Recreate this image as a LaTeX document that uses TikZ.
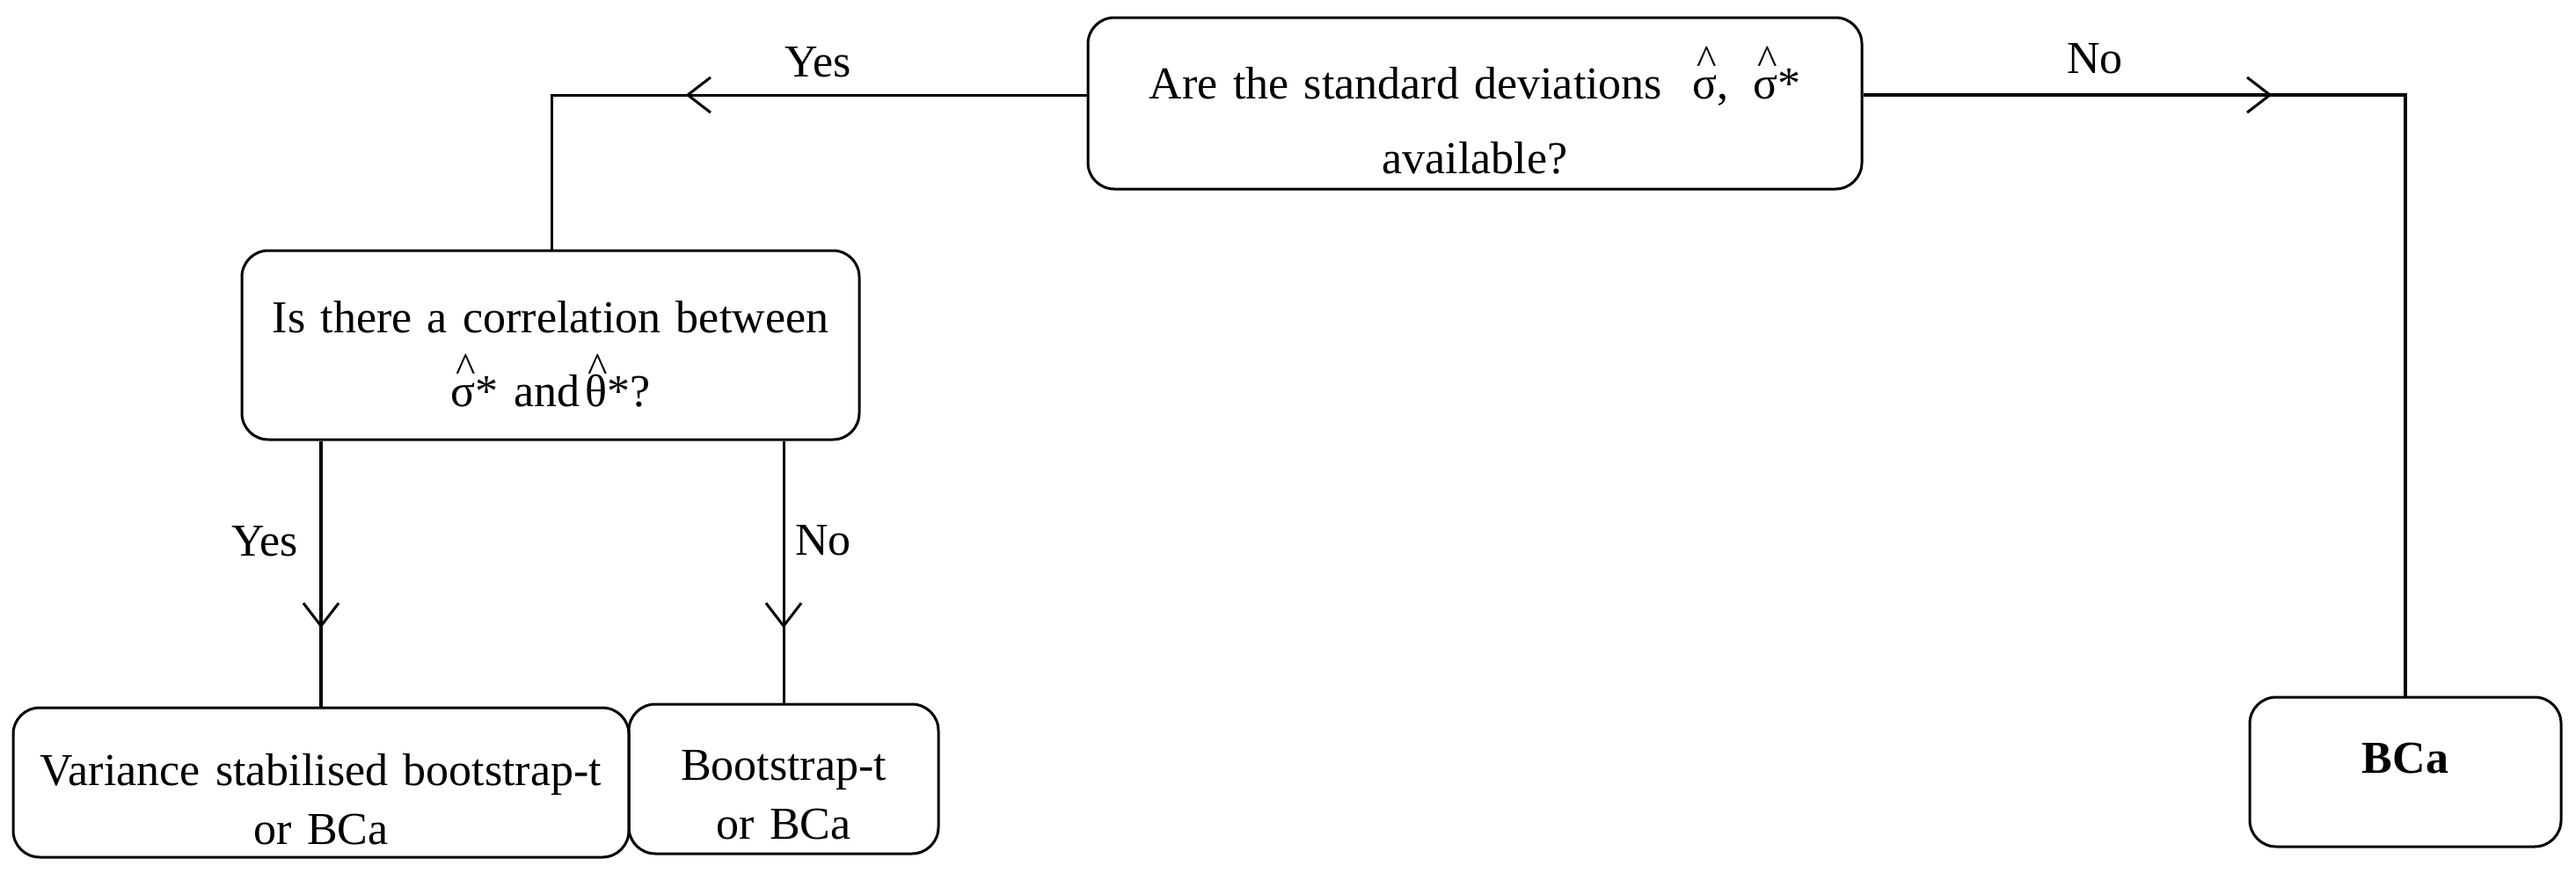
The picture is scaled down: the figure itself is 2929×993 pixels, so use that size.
\documentclass[tikz,border=0pt]{standalone}
\usepackage{fontspec}
\setmainfont{Liberation Serif}
\usetikzlibrary{arrows.meta,decorations.markings}
\newcommand{\hatted}[1]{\leavevmode\setbox0=\hbox{#1}\hbox to \wd0{\hss\kern5pt{\fontsize{48}{48}\selectfont\raisebox{28pt}{\symbol{94}}}\hss}\kern-\wd0\box0}
\newcommand{\upstrut}[1]{\rule{0pt}{#1}}
\newcommand{\downstrut}[1]{\rule[-#1]{0pt}{#1}}
\begin{document}
\begin{tikzpicture}[x=1pt,y=-1pt,
  box/.style={draw, line width=3pt, rounded corners=30pt, inner sep=0pt, align=center, font=\fontsize{52}{67}\selectfont},
  conn/.style={line width=3pt},
  lbl/.style={font=\fontsize{52}{60}\selectfont, inner sep=0pt},
  midarrow/.style={postaction={decorate}, decoration={markings, mark=at position #1 with {\arrow[line width=3pt]{Straight Barb[length=26pt,width=40pt]}}}}
]
\useasboundingbox (0,0) rectangle (2929,993);

\node[box, minimum width=880pt, minimum height=195pt, text width=870pt, font=\fontsize{52}{85}\selectfont] (q1) at (1677,117.5)
  {\upstrut{76pt}Are the standard deviations\hspace{34pt}\hatted{σ},\hspace{28pt}\hatted{σ}*\\available?};
\node[box, minimum width=702pt, minimum height=215pt, text width=690pt, font=\fontsize{52}{84}\selectfont] (q2) at (626,392.5)
  {\upstrut{57pt}Is there a correlation between\\\hatted{σ}* and\hspace{6pt}\hatted{θ}*?};
\node[box, minimum width=700pt, minimum height=170pt, text width=690pt] (v) at (365,890)
  {\upstrut{75pt}Variance stabilised bootstrap-t\\or BCa};
\node[box, minimum width=352pt, minimum height=170pt, text width=340pt] (b) at (891,886)
  {\upstrut{70pt}Bootstrap-t\\or BCa};
\node[box, minimum width=354pt, minimum height=170pt, font=\bfseries\fontsize{52}{60}\selectfont] (bca) at (2735,878)
  {BCa\downstrut{32pt}};

\coordinate (tl) at (627,108);
\coordinate (tr) at (2735,108);
\coordinate (yx) at (365,0);

\draw[conn, midarrow=456pt] (q1.west |- tl) -- (tl) -- (q2.north -| tl);
\draw[conn, line width=4pt, midarrow=465pt] (q1.east |- tr) -- (tr) -- (bca.north);
\draw[conn, line width=4.5pt, midarrow=213pt] (q2.south -| yx) -- (v.north -| yx);
\draw[conn, midarrow=213pt] (q2.south -| b.north) -- (b.north);

\node[lbl] (lyes1) at (930,71) {Yes};
\node[lbl] (lno1) at (2382,67) {No};
\node[lbl] (lyes2) at (301,616) {Yes};
\node[lbl] (lno2) at (936,615) {No};
\end{tikzpicture}
\end{document}
